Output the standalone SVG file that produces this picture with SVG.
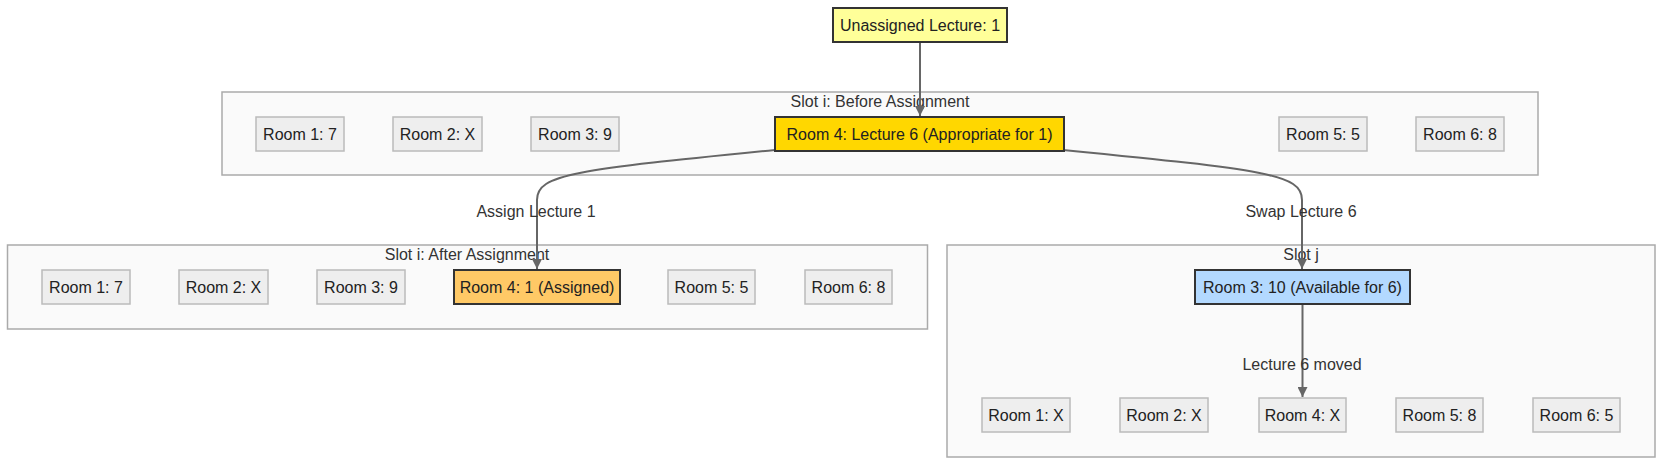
<svg xmlns="http://www.w3.org/2000/svg" width="1664" height="466" viewBox="0 0 1664 466">
<defs>
<style>
text{font-family:"Liberation Sans",Arial,sans-serif;font-size:16px;fill:#333;text-anchor:middle}
.cl{fill:#fafafa;stroke:#aaa;stroke-width:1.5}
.rm{fill:#eee;stroke:#bbb;stroke-width:1.5}
.hl{stroke:#333;stroke-width:2}
.e{fill:none;stroke:#666;stroke-width:2}
.nt{fill:#222}
</style>
<marker id="ah" viewBox="0 0 10 10" refX="10" refY="5" markerWidth="11" markerHeight="10" markerUnits="userSpaceOnUse" orient="auto">
<path d="M0,0 L10,5 L0,10 z" fill="#666"/>
</marker>
</defs>
<rect width="1664" height="466" fill="#fff"/>
<g id="clusters">
<g id="slot-i-before"><rect class="cl" x="222" y="92" width="1316" height="83"/><text x="880" y="107">Slot i: Before Assignment</text></g>
<g id="slot-i-after"><rect class="cl" x="7.5" y="245" width="920" height="84"/><text x="467" y="260">Slot i: After Assignment</text></g>
<g id="slot-j"><rect class="cl" x="947" y="245" width="708" height="212"/><text x="1301" y="260">Slot j</text></g>
</g>
<g id="connectors">
<path class="e" d="M920,42 L920,116" marker-end="url(#ah)"/>
<path class="e" d="M775,150 C575,170 537,174 537,200 L537,269" marker-end="url(#ah)"/>
<path class="e" d="M1063,150 C1265,170 1302,174 1302,200 L1302,269" marker-end="url(#ah)"/>
<path class="e" d="M1302.5,304 L1302.5,397" marker-end="url(#ah)"/>
<text x="536" y="217">Assign Lecture 1</text>
<text x="1301" y="217">Swap Lecture 6</text>
<text x="1302" y="370">Lecture 6 moved</text>
</g>
<g id="unassigned"><rect class="hl" x="833" y="8" width="174" height="34" fill="#ffff99"/><text class="nt" x="920" y="30.5">Unassigned Lecture: 1</text></g>
<g id="b1"><rect class="rm" x="256" y="117" width="88" height="34"/><text class="nt" x="300" y="139.5">Room 1: 7</text></g>
<g id="b2"><rect class="rm" x="393" y="117" width="89" height="34"/><text class="nt" x="437.5" y="139.5">Room 2: X</text></g>
<g id="b3"><rect class="rm" x="531" y="117" width="88" height="34"/><text class="nt" x="575" y="139.5">Room 3: 9</text></g>
<g id="b4"><rect class="hl" x="775" y="117" width="289" height="34" fill="#ffd700"/><text class="nt" x="919.5" y="139.5">Room 4: Lecture 6 (Appropriate for 1)</text></g>
<g id="b5"><rect class="rm" x="1279" y="117" width="88" height="34"/><text class="nt" x="1323" y="139.5">Room 5: 5</text></g>
<g id="b6"><rect class="rm" x="1416" y="117" width="88" height="34"/><text class="nt" x="1460" y="139.5">Room 6: 8</text></g>
<g id="a1"><rect class="rm" x="42" y="270" width="88" height="34"/><text class="nt" x="86" y="292.5">Room 1: 7</text></g>
<g id="a2"><rect class="rm" x="179" y="270" width="89" height="34"/><text class="nt" x="223.5" y="292.5">Room 2: X</text></g>
<g id="a3"><rect class="rm" x="317" y="270" width="88" height="34"/><text class="nt" x="361" y="292.5">Room 3: 9</text></g>
<g id="a4"><rect class="hl" x="454" y="270" width="166" height="34" fill="#ffc966"/><text class="nt" x="537" y="292.5">Room 4: 1 (Assigned)</text></g>
<g id="a5"><rect class="rm" x="668" y="270" width="87" height="34"/><text class="nt" x="711.5" y="292.5">Room 5: 5</text></g>
<g id="a6"><rect class="rm" x="805" y="270" width="87" height="34"/><text class="nt" x="848.5" y="292.5">Room 6: 8</text></g>
<g id="j3"><rect class="hl" x="1195" y="270" width="215" height="34" fill="#b3d9ff"/><text class="nt" x="1302.5" y="292.5">Room 3: 10 (Available for 6)</text></g>
<g id="j1"><rect class="rm" x="982" y="398" width="88" height="34"/><text class="nt" x="1026" y="420.5">Room 1: X</text></g>
<g id="j2"><rect class="rm" x="1120" y="398" width="88" height="34"/><text class="nt" x="1164" y="420.5">Room 2: X</text></g>
<g id="j4"><rect class="rm" x="1259" y="398" width="87" height="34"/><text class="nt" x="1302.5" y="420.5">Room 4: X</text></g>
<g id="j5"><rect class="rm" x="1396" y="398" width="87" height="34"/><text class="nt" x="1439.5" y="420.5">Room 5: 8</text></g>
<g id="j6"><rect class="rm" x="1533" y="398" width="87" height="34"/><text class="nt" x="1576.5" y="420.5">Room 6: 5</text></g>
</svg>
